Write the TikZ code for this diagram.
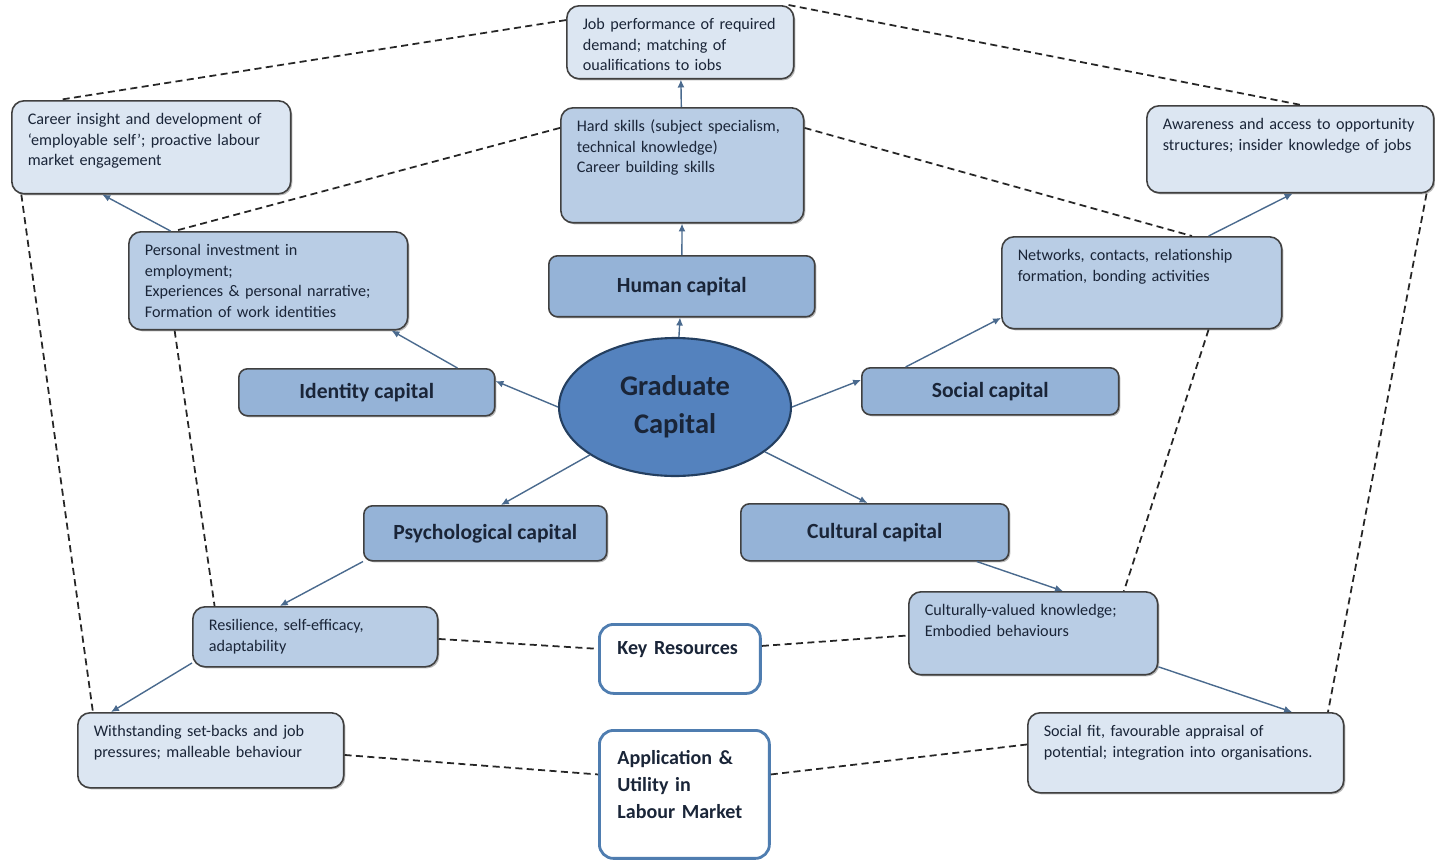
\documentclass[tikz,border=0pt]{standalone}
\usepackage{fontspec}
\setmainfont{Carlito}
\usepackage{tikz}
\usetikzlibrary{shapes,arrows,arrows.meta}
\usetikzlibrary{shapes.geometric,shadows}
\definecolor{palefill}{HTML}{DCE6F2}
\definecolor{midfill}{HTML}{B9CDE5}
\definecolor{capfill}{HTML}{95B3D7}
\definecolor{gradfill}{HTML}{5482BE}
\definecolor{gradline}{HTML}{243F60}
\definecolor{keyline}{HTML}{4F7DB0}
\definecolor{arrowblue}{HTML}{4A6A8E}
\definecolor{inkblue}{HTML}{1A2538}
\newcommand\boxfont{\fontsize{9.2}{11.7}\selectfont}
\newcommand\capfont{\fontsize{12.3}{14}\selectfont\bfseries}
\newcommand\gradfont{\fontsize{16.2}{21.5}\selectfont\bfseries}
\newcommand\keyfont{\fontsize{11.4}{15.4}\selectfont\bfseries}
\tikzstyle{frame} = [draw=black!75, line width=0.9pt, rounded corners=7pt,
drop shadow={shadow xshift=0.9pt, shadow yshift=-0.9pt, opacity=0.55},
anchor=north west]
\tikzstyle{note} = [frame, align=left, inner xsep=0.32cm, inner ysep=0.2cm,
text height=0.28cm, font=\boxfont, text=inkblue]
\tikzstyle{pale} = [note, fill=palefill]
\tikzstyle{mid} = [note, fill=midfill]
\tikzstyle{line} = [draw, -{Latex[length=4.5pt,width=4pt]}, color=arrowblue, thick]
\tikzstyle{dashline} = [draw, dash pattern=on 4pt off 2.5pt, line width=1pt, color=black!85]

\begin{document}
\begin{tikzpicture}[x=0.02cm, y=-0.02cm, auto,
	capbox/.style={frame, fill=capfill, inner sep=0pt, rounded corners=5pt,
		font=\capfont, text=inkblue},
	keybox/.style={draw=keyline, line width=1.6pt, rounded corners=8pt,
		fill=white, anchor=north west, align=left, inner xsep=0.36cm,
		inner ysep=0.2cm, font=\keyfont, text=inkblue}]
	\useasboundingbox (0,0) rectangle (1435,859);
	%% Centre
	\node[ellipse, draw=gradline, line width=1.2pt, fill=gradfill, inner sep=0pt,
		minimum width=4.64cm, minimum height=2.76cm, align=center,
		font=\gradfont, text=inkblue] (grad) at (675,407) {Graduate\\Capital};
	\node[capbox, minimum width=5.32cm, minimum height=1.22cm] (human) at (548,255) {Human capital};
	\node[capbox, minimum width=5.12cm, minimum height=0.94cm] (identity) at (238,368) {Identity capital};
	\node[capbox, minimum width=5.14cm, minimum height=0.94cm] (social) at (861,367) {Social capital};
	\node[capbox, minimum width=4.86cm, minimum height=1.10cm] (psych) at (363,505) {Psychological capital};
	\node[capbox, minimum width=5.36cm, minimum height=1.14cm] (cultural) at (740,503) {Cultural capital};
	%% Resources
	\node[mid, text width=4.22cm, text depth=1.62cm] (hardskill) at (560,107)
		{Hard skills (subject specialism,\\technical knowledge)\\Career building skills};
	\node[mid, text width=4.94cm, text depth=1.28cm] (personal) at (128,231)
		{Personal investment in\\employment;\\Experiences \& personal narrative;\\Formation of work identities};
	\node[mid, text width=4.96cm, text depth=1.16cm] (network) at (1001,236)
		{Networks, contacts, relationship\\formation, bonding activities};
	\node[mid, text width=4.26cm, text depth=0.52cm] (resil) at (192,606)
		{Resilience, self-efficacy,\\adaptability};
	\node[mid, text width=4.34cm, text depth=0.98cm] (culturalval) at (908,591)
		{Culturally-valued knowledge;\\Embodied behaviours};
	%% Outcomes
	\node[pale, text width=3.90cm, text depth=0.78cm] (jobperf) at (566,5)
		{Job performance of required\\demand; matching of\\oualifications to iobs};
	\node[pale, text width=4.94cm, text depth=1.18cm] (career) at (11,100)
		{Career insight and development of\\`employable self'; proactive labour\\market engagement};
	\node[pale, text width=5.10cm, text depth=1.06cm] (aware) at (1146,105)
		{Awareness and access to opportunity\\structures; insider knowledge of jobs};
	\node[pale, text width=4.68cm, text depth=0.82cm] (withstand) at (77,712)
		{Withstanding set-backs and job\\pressures; malleable behaviour};
	\node[pale, text width=5.68cm, text depth=0.92cm] (socialfit) at (1027,712)
		{Social fit, favourable appraisal of\\potential; integration into organisations.};
	%% Keys
	\node[keybox, text width=2.5cm, text height=0.4cm, text depth=0.58cm] (keyres) at (598,623) {Key Resources};
	\node[keybox, text width=2.68cm, text height=0.48cm, text depth=1.68cm] (applic) at (598,729)
		{Application \&\\Utility in\\Labour Market};
	%% Flows
	\path[line] (grad) -- (human);
	\path[line] (human) -- (hardskill);
	\path[line] (hardskill) -- (jobperf);
	\path[line] (grad.west) -- (identity.5);
	\path[line] (identity.15) -- (personal.-22);
	\path[line] (personal.153) -- (career.224);
	\path[line] (grad) -- (psych.61);
	\path[line] (psych.193) -- (resil.139);
	\path[line] (resil.192) -- (withstand.159);
	\path[line] (grad.east) -- (social.175);
	\path[line] (social.164) -- (network.194);
	\path[line] (network.35) -- (aware.-87);
	\path[line] (grad) -- (cultural.104);
	\path[line] (cultural.-16) -- (culturalval.55);
	\path[line] (culturalval.-15) -- (socialfit.21);
	%% Dashed links
	\path[dashline] (jobperf.169) -- (career.153);
	\path[dashline] (jobperf.19) -- (aware.76);
	\path[dashline] (hardskill.163) -- (personal.152);
	\path[dashline] (hardskill.17) -- (network.43);
	\path[dashline] (career.200) -- (withstand.162);
	\path[dashline] (personal.208) -- (resil.163);
	\path[dashline] (network.-35) -- (culturalval.25);
	\path[dashline] (aware.-18) -- (socialfit.16);
	\path[dashline] (resil.-1) -- (keyres.173);
	\path[dashline] (keyres.9) -- (culturalval.181);
	\path[dashline] (withstand.-2) -- (applic.167);
	\path[dashline] (applic.13) -- (socialfit.177);
\end{tikzpicture}
\end{document}
